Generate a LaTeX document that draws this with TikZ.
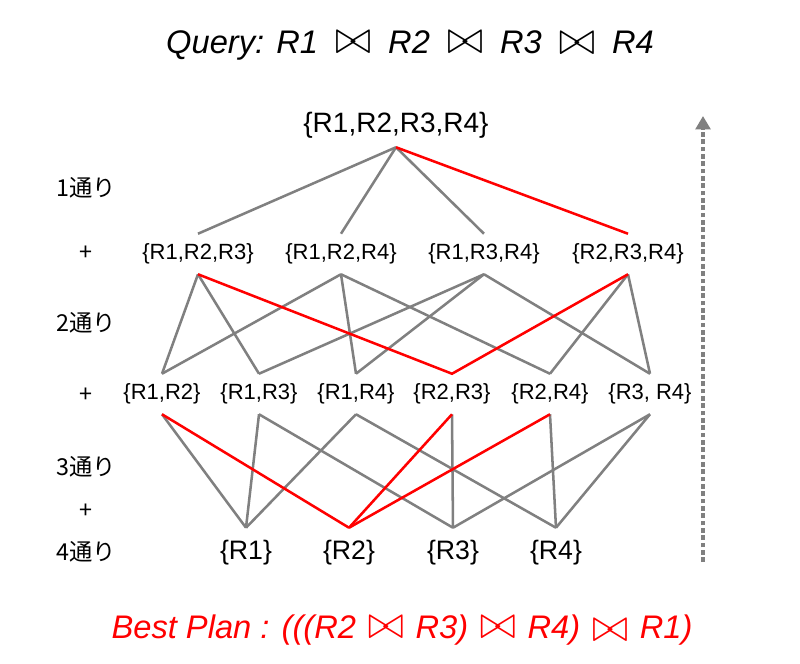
\documentclass[tikz,border=0pt]{standalone}
\usepackage{fontspec}
\setmainfont{Liberation Sans}
\newfontfamily\jpfont{Noto Sans CJK JP}
\usetikzlibrary{arrows.meta}
\newcommand\jn{\resizebox{27pt}{16.5pt}{$\bowtie$}}

\begin{document}
\begin{tikzpicture}[x=0.75pt,y=-0.75pt,
  full/.style={inner sep=0pt,minimum height=33pt,font=\fontsize{21}{24}\selectfont},
  triple/.style={inner sep=0pt,minimum height=30pt,font=\fontsize{16.5}{19}\selectfont},
  single/.style={inner sep=0pt,minimum height=37.5pt,font=\fontsize{20}{23}\selectfont},
  ways/.style={font=\jpfont\fontsize{17.5}{20}\selectfont},
  link/.style={gray,line width=1.9pt},
  bestlink/.style={red,line width=1.9pt}]
\useasboundingbox (0,0) rectangle (800,664);
\node (title) at (410,45) {\fontsize{24.5}{28}\selectfont\itshape Query: R1\hspace{6pt} \jn{} \hspace{6pt}R2\hspace{6pt} \jn{} \hspace{6pt}R3\hspace{6pt} \raisebox{-1pt}{\jn} \hspace{6pt}R4};
\node[full] (r1234) at (396,125) {\{R1,R2,R3,R4\}};
\node[triple] (r123) at (198,254) {\{R1,R2,R3\}};
\node[triple] (r124) at (341,254) {\{R1,R2,R4\}};
\node[triple] (r134) at (484,254) {\{R1,R3,R4\}};
\node[triple] (r234) at (628,254) {\{R2,R3,R4\}};
\node[triple] (r12) at (162,394) {\{R1,R2\}};
\node[triple] (r13) at (259,394) {\{R1,R3\}};
\node[triple] (r14) at (356,394) {\{R1,R4\}};
\node[triple] (r23) at (452,394) {\{R2,R3\}};
\node[triple] (r24) at (550,394) {\{R2,R4\}};
\node[triple] (r34) at (650,394) {\{R3, R4\}};
\node[single] (r1) at (246,553) {\{R1\}};
\node[single] (r2) at (349,553) {\{R2\}};
\node[single] (r3) at (453,553) {\{R3\}};
\node[single] (r4) at (556,553) {\{R4\}};
\node[ways] (w1) at (86,188) {1通り};
\node[ways] (p1) at (86,253) {+};
\node[ways] (w2) at (86,323) {2通り};
\node[ways] (p2) at (86,395) {+};
\node[ways] (w3) at (86,467) {3通り};
\node[ways] (p3) at (86,511) {+};
\node[ways] (w4) at (86,552) {4通り};
\foreach \t in {r123,r124,r134}
  \draw[link] (r1234.south) -- (\t.north);
\foreach \a/\b in {r123/r12,r123/r13,r124/r12,r124/r14,r124/r24,r134/r13,r134/r14,r134/r34,r234/r24,r234/r34}
  \draw[link] (\a.south) -- (\b.north);
\foreach \a/\b in {r12/r1,r13/r1,r13/r3,r14/r1,r14/r4,r23/r3,r24/r4,r34/r3,r34/r4}
  \draw[link] (\a.south) -- (\b.north);
\draw[bestlink] (r1234.south) -- (r234.north);
\draw[bestlink] (r123.south) -- (r23.north) -- (r234.south);
\foreach \a in {r12,r23,r24}
  \draw[bestlink] (\a.south) -- (r2.north);
\coordinate (low) at (703,562);
\coordinate (high) at (703,116);
\draw[gray,line width=2.6pt,dash pattern=on 3.5pt off 2pt,-{Triangle[width=11pt,length=10pt]}] (low) -- (high);
\node[red] (plan) at (402,630) {\fontsize{24.5}{28}\selectfont\itshape Best Plan : (((R2\hspace{2pt} \jn{} \hspace{2pt}R3)\hspace{2pt} \jn{} \hspace{2pt}R4)\hspace{2pt} \raisebox{-2pt}{\jn} \hspace{2pt}R1)};
\end{tikzpicture}
\end{document}
